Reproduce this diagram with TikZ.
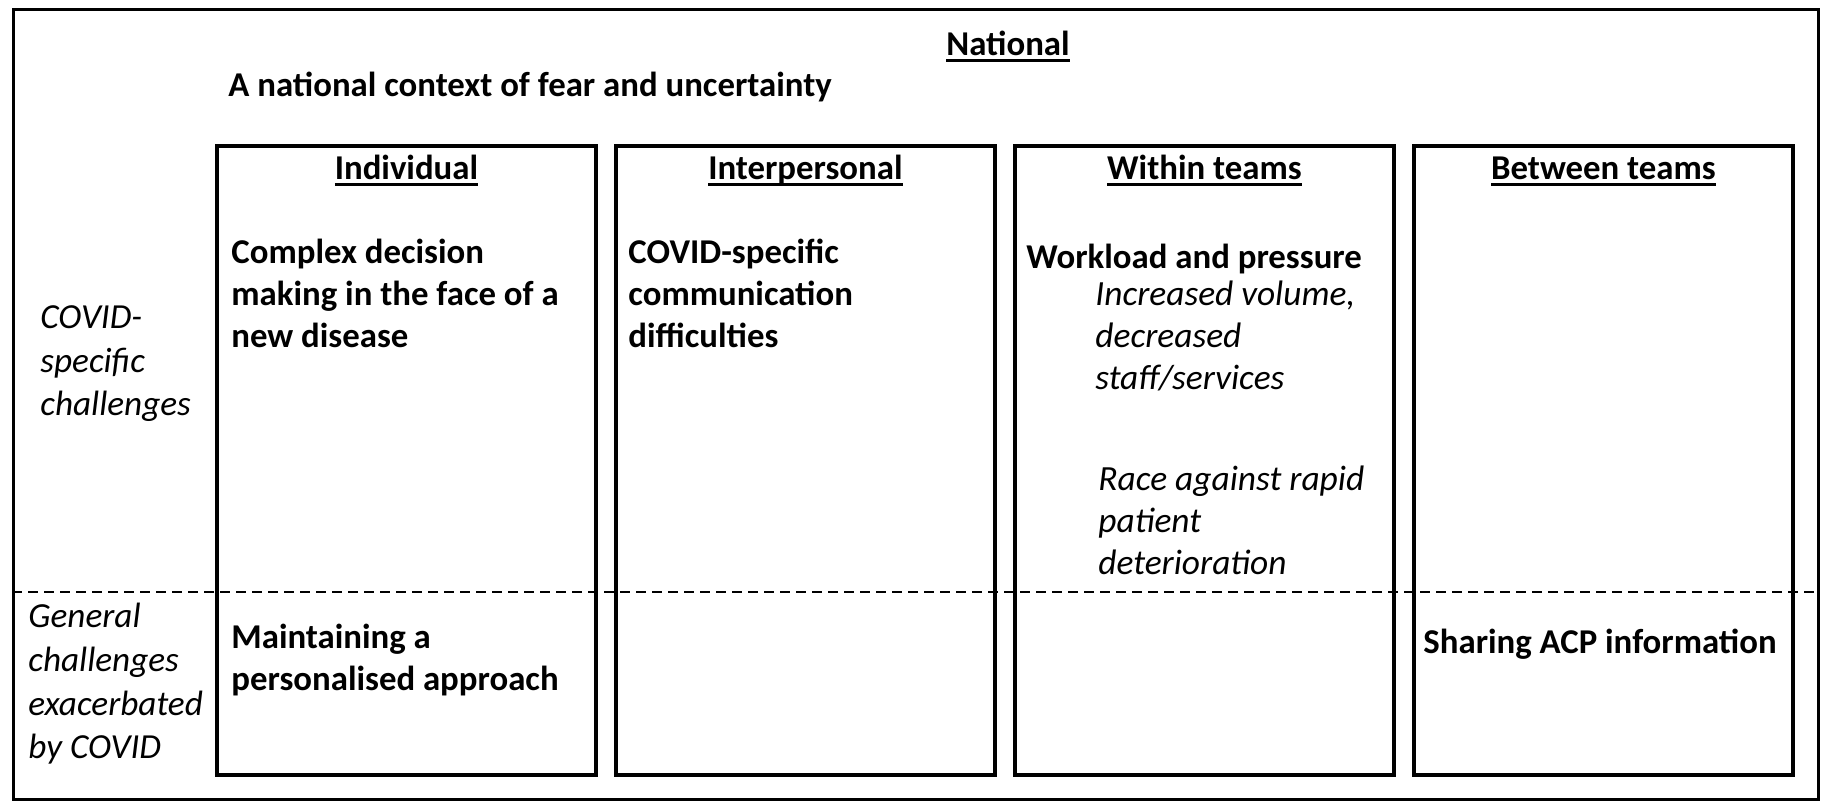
\documentclass[tikz,border=0pt]{standalone}
\usepackage{fontspec}
\setmainfont{Carlito}
\newcommand\fs{\fontsize{17.4}{21}\selectfont}
\newcommand\fsi{\fontsize{17.7}{21}\selectfont}
\newcommand\fsl{\fontsize{17.6}{21.8}\selectfont}
\newcommand\myul[1]{\setbox0\hbox{#1}\rlap{\rule[-3.2pt]{\wd0}{1.2pt}}\box0}
\begin{document}
\begin{tikzpicture}[x=0.5pt,y=-0.5pt,
  colbox/.style={draw, line width=1.9pt, anchor=north west, inner sep=0pt,
    minimum width=189.5pt, minimum height=314.5pt},
  head/.style={anchor=base, inner sep=0pt, font=\fs\bfseries},
  blk/.style={anchor=north west, inner sep=0pt, align=left, font=\fs\bfseries, execute at begin node=\strut},
  iblk/.style={anchor=north west, inner sep=0pt, align=left, font=\fsi\itshape, execute at begin node=\strut},
  lblk/.style={anchor=north west, inner sep=0pt, align=left, font=\fsl\itshape, execute at begin node=\strut}]
\useasboundingbox (0,0) rectangle (1826,801);
\node[draw, line width=1.4pt, anchor=north west, inner sep=0pt, minimum width=902.5pt, minimum height=395pt] (frame) at (12,8) {};
\node[head] (nat) at (1008,55.5) {\myul{National}};
\node[blk] (ctx) at (228,67) {A national context of fear and uncertainty};
\node[colbox] (ind) at (215,144) {};
\node[colbox] (inter) at (614,144) {};
\node[colbox] (within) at (1013,144) {};
\node[colbox] (between) at (1412,144) {};
\node[head] (hind) at (ind.north |- 0,179.5) {\myul{Individual}};
\node[head] (hinter) at (inter.north |- 0,179.5) {\myul{Interpersonal}};
\node[head] (hwithin) at (within.north |- 0,179.5) {\myul{Within teams}};
\node[head] (hbetween) at (between.north |- 0,179.5) {\myul{Between teams}};
\coordinate (dl) at (frame.west |- 0,592);
\coordinate (dr) at (frame.east |- 0,592);
\draw[line width=1.4pt, dash pattern=on 4.8pt off 3.2pt] (dl) -- (dr);
\node[lblk] (covid) at (40,305.5) {COVID-\\specific\\challenges};
\node[lblk] (general) at (28,603) {General\\challenges\\exacerbated\\by COVID};
\node[blk] (complex) at (231,238.6) {Complex decision\\making in the face of a\\new disease};
\node[blk] (comm) at (628,238.6) {COVID-specific\\communication\\difficulties};
\node[blk] (work) at (1026,238.6) {Workload and pressure};
\node[iblk] (vol) at (1095,281) {Increased volume,\\decreased\\staff/services};
\node[iblk] (race) at (1098,466) {Race against rapid\\patient\\deterioration};
\node[blk] (maint) at (231,623.6) {Maintaining a\\personalised approach};
\node[blk] (share) at (1423,623.6) {Sharing ACP information};
\end{tikzpicture}
\end{document}
